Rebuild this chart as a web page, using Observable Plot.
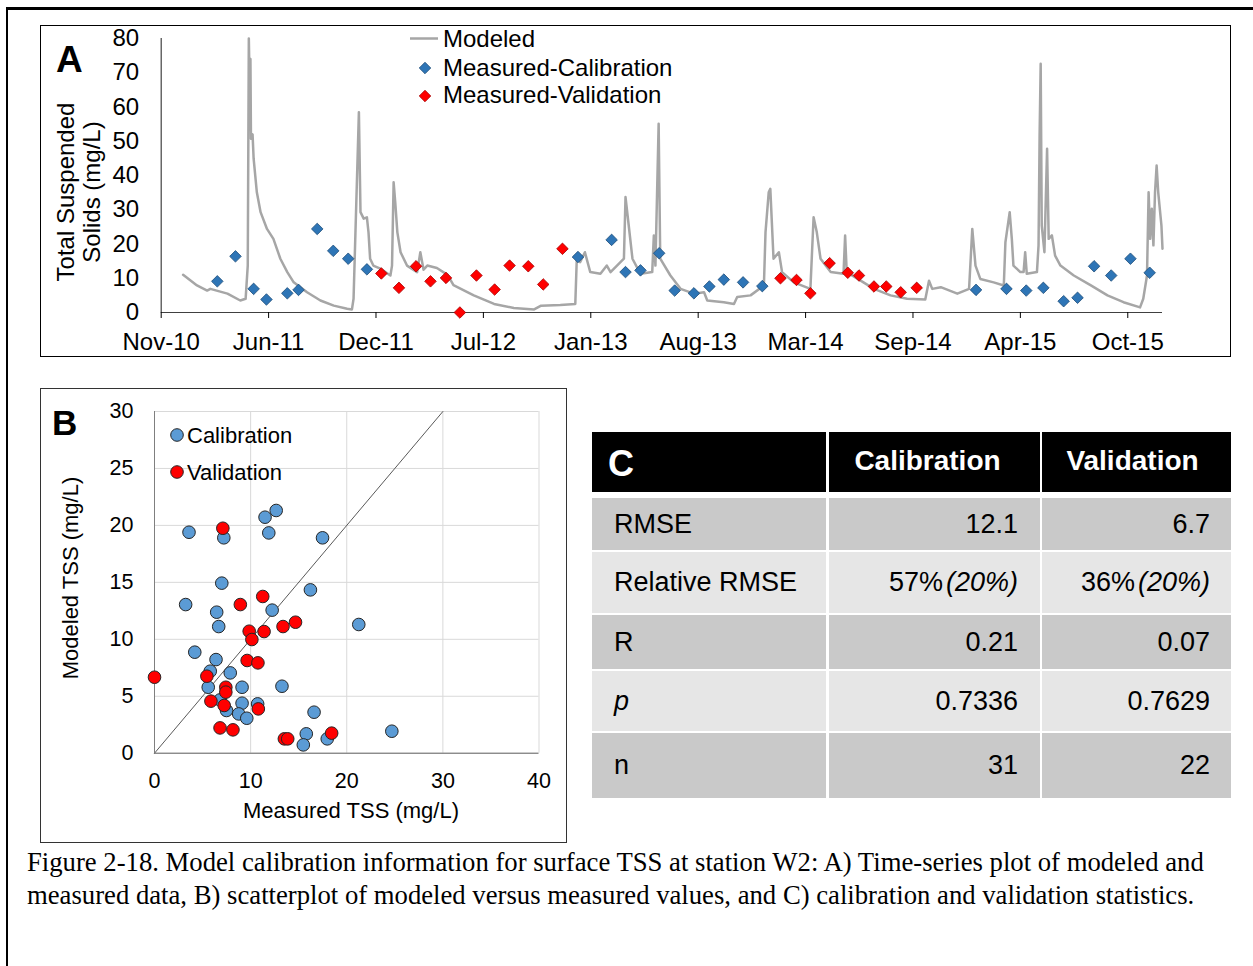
<!DOCTYPE html>
<html><head><meta charset="utf-8">
<script src="https://cdn.jsdelivr.net/npm/d3@7"></script>
<script src="https://cdn.jsdelivr.net/npm/@observablehq/plot@0.6"></script>
<style>
html,body{margin:0;padding:0;background:#fff;}
body{width:1253px;height:966px;position:relative;overflow:hidden;font-family:"Liberation Sans",Arial,sans-serif;}
.abs{position:absolute;box-sizing:border-box;}
.cell{position:absolute;box-sizing:border-box;display:flex;align-items:center;white-space:nowrap;}
</style></head><body>
<div class="abs" style="left:6px;top:7px;width:1300px;height:1000px;border-top:3px solid #000;border-left:2px solid #000;"></div>
<div class="abs" style="left:40px;top:25px;width:1191px;height:332px;border:1px solid #000;"></div>
<div class="abs" style="left:40px;top:388px;width:527px;height:455px;border:1px solid #333;"></div>
<div id="chartA" class="abs" style="left:40px;top:25px;"></div>
<div id="chartB" class="abs" style="left:40px;top:385px;"></div>
<div id="tableC"></div>
<div id="caption" class="abs" style="left:27px;top:846px;font-family:'Liberation Serif','Times New Roman',serif;font-size:26.7px;line-height:33px;white-space:nowrap;color:#000;"></div>
<script>
// ---------------- Panel A data ----------------
const xTickDates = ["2010-11-15","2011-06-04","2011-12-22","2012-07-10","2013-01-27","2013-08-16","2014-03-05","2014-09-22","2015-04-11","2015-10-29"];
const xTickLabels = ["Nov-10","Jun-11","Dec-11","Jul-12","Jan-13","Aug-13","Mar-14","Sep-14","Apr-15","Oct-15"];
const yTicksA = [0,10,20,30,40,50,60,70,80];
const xDomainA = ["2010-11-15","2016-01-02"];

const modeledDates = ["2010-12-26","2011-01-21","2011-02-09","2011-02-15","2011-03-19","2011-04-12","2011-04-22","2011-04-26","2011-04-28","2011-04-30","2011-05-01","2011-05-02","2011-05-05","2011-05-07","2011-05-13","2011-05-20","2011-06-01","2011-06-13","2011-06-26","2011-07-09","2011-07-21","2011-08-15","2011-09-09","2011-10-04","2011-10-29","2011-11-07","2011-11-10","2011-11-20","2011-11-23","2011-11-29","2011-12-05","2011-12-08","2011-12-11","2011-12-17","2011-12-30","2012-01-18","2012-01-21","2012-01-24","2012-01-27","2012-01-31","2012-02-06","2012-02-18","2012-03-08","2012-03-14","2012-03-20","2012-03-27","2012-04-14","2012-05-04","2012-05-15","2012-06-22","2012-07-30","2012-09-05","2012-10-13","2012-10-26","2012-12-01","2012-12-29","2013-01-01","2013-01-07","2013-01-16","2013-01-26","2013-02-14","2013-02-26","2013-03-05","2013-03-30","2013-04-02","2013-04-08","2013-04-15","2013-04-30","2013-05-22","2013-05-25","2013-05-28","2013-06-03","2013-06-06","2013-06-25","2013-07-14","2013-08-08","2013-08-27","2013-09-02","2013-10-03","2013-10-22","2013-10-28","2013-11-22","2013-12-17","2013-12-20","2013-12-26","2013-12-29","2014-01-04","2014-01-14","2014-01-20","2014-02-11","2014-03-14","2014-03-20","2014-03-26","2014-04-02","2014-04-21","2014-05-15","2014-05-18","2014-05-21","2014-06-16","2014-07-11","2014-08-11","2014-09-11","2014-10-15","2014-10-22","2014-10-28","2014-11-13","2014-12-14","2015-01-05","2015-01-11","2015-01-17","2015-01-26","2015-02-20","2015-03-11","2015-03-14","2015-03-22","2015-03-26","2015-03-29","2015-04-11","2015-04-17","2015-04-20","2015-04-23","2015-05-12","2015-05-15","2015-05-17","2015-05-19","2015-05-21","2015-05-26","2015-05-31","2015-06-03","2015-06-09","2015-06-15","2015-06-25","2015-07-20","2015-08-21","2015-09-21","2015-10-21","2015-11-21","2015-11-27","2015-12-04","2015-12-07","2015-12-10","2015-12-13","2015-12-16","2015-12-19","2015-12-22","2015-12-25","2015-12-31","2016-01-02"];
const modeledTSS = [11.0,7.9,6.4,6.9,5.5,3.5,4.0,13.7,80,62,74,50.7,52,44.9,35.1,29.3,24.4,21.5,15.7,11.8,8.8,5.9,3.5,2.0,1.1,0.9,4.0,58.5,29.3,27.4,27.8,23.4,15.7,13.7,12.8,10.8,13.7,38,32.2,23.4,17.6,13.7,11.8,17.6,12.5,13.7,13.0,11.0,8.0,5.0,2.5,1.3,0.9,2.0,2.2,2.5,16.6,14.7,17.6,11.8,11.3,13.7,11.8,15.7,33.7,25.4,15.7,11.3,11.8,22.5,13.7,55.1,15.7,10.8,6.9,5.5,5.9,3.5,3.0,2.5,4.5,5.0,7.9,23.4,35.1,36.1,15.7,17.6,11.8,8.8,6.9,27.8,23.4,15.7,11.8,11.3,22.5,11.8,9.3,6.9,5.0,4.0,3.8,9.3,6.9,7.4,5.5,6.9,24.4,13.7,9.8,8.8,7.9,20.5,29.3,21.5,13.7,11.8,11.8,17.6,11.3,11.8,19.6,51.7,72.6,25.4,17.6,47.8,21.5,22.5,16.6,13.7,10.8,7.9,5.0,3.0,1.5,4.0,10.8,35.1,21.5,30.3,19.6,35.1,42.9,35.1,25.4,18.6];

const calibDates = ["2011-02-28","2011-04-03","2011-05-07","2011-05-31","2011-07-09","2011-07-30","2011-09-03","2011-10-03","2011-10-31","2011-12-05","2013-01-03","2013-03-07","2013-04-02","2013-04-30","2013-06-04","2013-07-03","2013-08-08","2013-09-06","2013-10-03","2013-11-08","2013-12-14","2015-01-18","2015-03-16","2015-04-22","2015-05-24","2015-07-01","2015-07-27","2015-08-27","2015-09-28","2015-11-03","2015-12-09"];
const calibTSS = [9.1,16.4,6.9,3.8,5.6,6.6,24.4,18.0,15.7,12.6,16.2,21.2,11.8,12.3,17.3,6.4,5.6,7.6,9.6,8.8,7.7,6.6,6.9,6.4,7.2,3.3,4.3,13.5,10.8,15.7,11.6];

const validDates = ["2012-01-01","2012-02-03","2012-03-06","2012-04-02","2012-05-01","2012-05-27","2012-06-27","2012-07-31","2012-08-28","2012-10-02","2012-10-30","2012-12-05","2014-01-17","2014-02-16","2014-03-14","2014-04-19","2014-05-23","2014-06-13","2014-07-11","2014-08-03","2014-08-30","2014-09-29"];
const validTSS = [11.4,7.2,13.5,9.1,10.1,0,10.8,6.7,13.7,13.5,8.2,18.6,10.0,9.5,5.6,14.4,11.6,10.8,7.6,7.6,5.9,7.2];

// ---------------- Panel B data ----------------
const xTicksB = [0,10,20,30,40];
const yTicksB = [0,5,10,15,20,25,30];
const oneToOne = [0,30];
const scatCalibMeasured = [3.59,7.21,11.50,12.66,11.89,17.48,7.00,16.22,3.24,6.47,12.24,6.68,21.25,4.19,6.40,5.80,7.88,5.59,9.11,13.26,9.11,10.73,6.82,7.49,8.76,9.60,16.60,15.79,17.97,15.48,24.69];
const scatCalibModeled  = [19.40,18.91,20.72,21.31,19.34,18.91,14.93,14.34,13.05,12.38,12.56,11.12,11.30,8.87,8.22,7.20,7.05,5.79,5.79,5.88,4.39,4.33,4.68,3.75,3.45,3.07,3.60,1.70,1.26,0.73,1.93];
const scatValidMeasured = [7.11,8.93,11.26,9.85,10.13,11.40,13.37,14.67,9.64,10.76,0.0,5.45,7.42,7.42,5.87,7.25,10.80,6.82,8.16,13.51,13.86,18.43];
const scatValidModeled  = [19.75,13.05,13.76,10.71,9.98,10.68,11.12,11.50,8.14,7.93,6.67,6.76,5.79,5.36,4.57,4.19,3.89,2.22,2.05,1.26,1.26,1.76];

// ---------------- Panel C data ----------------
const statHeaders = ["C","Calibration","Validation"];
const statNames = ["RMSE","Relative RMSE","R","p","n"];
const calibStats = ["12.1","57%","0.21","0.7336","31"];
const validStats = ["6.7","36%","0.07","0.7629","22"];
const relTarget = "(20%)";

const captionLines = [
  "Figure 2-18. Model calibration information for surface TSS at station W2: A) Time-series plot of modeled and",
  "measured data, B) scatterplot of modeled versus measured values, and C) calibration and validation statistics."
];

// ---------------- build tables ----------------
const modeled = modeledDates.map((d,i)=>({date:new Date(d), tss:modeledTSS[i]}));
const calib = calibDates.map((d,i)=>({date:new Date(d), tss:calibTSS[i]}));
const valid = validDates.map((d,i)=>({date:new Date(d), tss:validTSS[i]}));
const tickDatesA = xTickDates.map(d=>new Date(d));
const labelMap = new Map(tickDatesA.map((d,i)=>[+d, xTickLabels[i]]));
const scatCalib = scatCalibMeasured.map((m,i)=>({measured:m, modeled:scatCalibModeled[i]}));
const scatValid = scatValidMeasured.map((m,i)=>({measured:m, modeled:scatValidModeled[i]}));

const FONT = '"Liberation Sans", Arial, sans-serif';
const blueA = "#2e75b6", blueAStroke = "#1f4e79", redA = "#ff0000", redAStroke = "#a50000";

// ---------------- Panel A ----------------
const chartA = Plot.plot({
  width: 1190, height: 331,
  marginLeft: 120.7, marginRight: 68, marginTop: 13, marginBottom: 44,
  style: {fontFamily: FONT, fontSize: "24px", color: "#000", background: "transparent", overflow: "visible"},
  x: {type: "utc", domain: xDomainA.map(d=>new Date(d))},
  y: {domain: [0, 80]},
  marks: [
    Plot.ruleY([0], {stroke: "#404040", strokeWidth: 1.2}),
    Plot.ruleX([tickDatesA[0]], {stroke: "#404040", strokeWidth: 1.2}),
    Plot.line(modeled, {x: "date", y: "tss", stroke: "#a6a6a6", strokeWidth: 2.5}),
    Plot.dot(calib, {x: "date", y: "tss", symbol: "diamond2", r: 5.2, fill: blueA, stroke: blueAStroke, strokeWidth: 0.8}),
    Plot.dot(valid, {x: "date", y: "tss", symbol: "diamond2", r: 5.2, fill: redA, stroke: redAStroke, strokeWidth: 0.8}),
    Plot.axisX(tickDatesA, {tickSize: 6, tickPadding: 14.5, tickFormat: d => labelMap.get(+d), label: null, fontSize: 24}),
    Plot.axisY(yTicksA, {tickSize: 0, tickPadding: 22, label: null, fontSize: 24})
  ]
});
document.getElementById("chartA").appendChild(chartA);
{
  const svg = d3.select(chartA);
  const ox = 40, oy = 25; // page offset of svg
  svg.append("text").attr("x", 56 - ox).attr("y", 72 - oy).attr("text-anchor", "start")
    .attr("font-size", 37).attr("font-weight", "bold").attr("font-family", FONT).attr("fill", "#000").text("A");
  const yt = svg.append("g").attr("font-size", 24).attr("font-family", FONT).attr("fill", "#000").attr("text-anchor", "middle");
  yt.append("text").attr("transform", `translate(${74 - ox},${192 - oy}) rotate(-90)`).text("Total Suspended");
  yt.append("text").attr("transform", `translate(${100 - ox},${192 - oy}) rotate(-90)`).text("Solids (mg/L)");
  // legend
  const lg = svg.append("g").attr("font-size", 24).attr("font-family", FONT).attr("fill", "#000").attr("text-anchor", "start");
  lg.append("line").attr("x1", 410 - ox).attr("x2", 438 - ox).attr("y1", 38.5 - oy).attr("y2", 38.5 - oy)
    .attr("stroke", "#a6a6a6").attr("stroke-width", 2.5);
  lg.append("text").attr("x", 443 - ox).attr("y", 47 - oy).text("Modeled");
  const dsym = d3.symbol(d3.symbolDiamond2, Math.PI * 5.2 * 5.2);
  lg.append("path").attr("d", dsym()).attr("transform", `translate(${425 - ox},${68 - oy})`)
    .attr("fill", blueA).attr("stroke", blueAStroke).attr("stroke-width", 0.8);
  lg.append("text").attr("x", 443 - ox).attr("y", 75.5 - oy).text("Measured-Calibration");
  lg.append("path").attr("d", dsym()).attr("transform", `translate(${425 - ox},${96 - oy})`)
    .attr("fill", redA).attr("stroke", redAStroke).attr("stroke-width", 0.8);
  lg.append("text").attr("x", 443 - ox).attr("y", 103 - oy).text("Measured-Validation");
}

// ---------------- Panel B ----------------
const blueB = "#5b9bd5", redB = "#ff0000", ptStroke = "#262626";
const chartB = Plot.plot({
  width: 527, height: 460,
  marginLeft: 114, marginRight: 28.5, marginTop: 26, marginBottom: 92.3,
  style: {fontFamily: FONT, fontSize: "21.5px", color: "#000", background: "transparent", overflow: "visible"},
  x: {domain: [0, 40]},
  y: {domain: [0, 30]},
  marks: [
    Plot.gridX(xTicksB.slice(1), {stroke: "#d9d9d9", strokeOpacity: 1, strokeWidth: 1}),
    Plot.gridY(yTicksB.slice(1), {stroke: "#d9d9d9", strokeOpacity: 1, strokeWidth: 1}),
    Plot.ruleY([0], {stroke: "#595959", strokeWidth: 1}),
    Plot.ruleX([0], {stroke: "#7f7f7f", strokeWidth: 1}),
    Plot.line(oneToOne, {x: d => d, y: d => d, stroke: "#595959", strokeWidth: 1}),
    Plot.dot(scatCalib, {x: "measured", y: "modeled", r: 6.3, fill: blueB, stroke: ptStroke, strokeWidth: 1}),
    Plot.dot(scatValid, {x: "measured", y: "modeled", r: 6.3, fill: redB, stroke: ptStroke, strokeWidth: 1}),
    Plot.axisX(xTicksB, {tickSize: 0, tickPadding: 20, label: null, fontSize: 21.5}),
    Plot.axisY(yTicksB, {tickSize: 0, tickPadding: 21, label: null, fontSize: 21.5})
  ]
});
document.getElementById("chartB").appendChild(chartB);
{
  const svg = d3.select(chartB);
  const ox = 40, oy = 385;
  svg.append("text").attr("x", 52 - ox).attr("y", 435 - oy).attr("text-anchor", "start")
    .attr("font-size", 35).attr("font-weight", "bold").attr("font-family", FONT).attr("fill", "#000").text("B");
  const g = svg.append("g").attr("font-size", 22).attr("font-family", FONT).attr("fill", "#000").attr("text-anchor", "start");
  g.append("text").attr("x", 351 - ox).attr("y", 818 - oy).attr("text-anchor", "middle").text("Measured TSS (mg/L)");
  g.append("text").attr("transform", `translate(${78 - ox},${578 - oy}) rotate(-90)`).attr("text-anchor", "middle").text("Modeled TSS (mg/L)");
  g.append("circle").attr("cx", 177 - ox).attr("cy", 435 - oy).attr("r", 6.3).attr("fill", blueB).attr("stroke", ptStroke);
  g.append("text").attr("x", 187 - ox).attr("y", 443 - oy).text("Calibration");
  g.append("circle").attr("cx", 177 - ox).attr("cy", 472 - oy).attr("r", 6.3).attr("fill", redB).attr("stroke", ptStroke);
  g.append("text").attr("x", 187 - ox).attr("y", 480 - oy).text("Validation");
}

// ---------------- Panel C (table) ----------------
{
  const host = document.getElementById("tableC");
  const cols = [[592, 826], [829, 1040], [1042, 1231]];
  const header = [432, 492];
  const rows = [[498, 550], [552, 613], [615, 669], [671, 731], [733, 798]];
  const rowBg = ["#c9c9c9", "#e6e6e6", "#c9c9c9", "#e6e6e6", "#c9c9c9"];
  function cell(x0, x1, y0, y1, bg, html, opts) {
    const d = document.createElement("div");
    d.className = "cell";
    Object.assign(d.style, {left: x0 + "px", top: y0 + "px", width: (x1 - x0) + "px", height: (y1 - y0) + "px", background: bg}, opts || {});
    d.innerHTML = html;
    host.appendChild(d);
  }
  cell(cols[0][0], cols[0][1], header[0], header[1], "#000", statHeaders[0],
    {color: "#fff", fontWeight: "bold", fontSize: "36px", paddingLeft: "16px", paddingTop: "4px"});
  cell(cols[1][0], cols[1][1], header[0], header[1], "#000", statHeaders[1],
    {color: "#fff", fontWeight: "bold", fontSize: "28px", justifyContent: "center", paddingRight: "14px", paddingBottom: "2px"});
  cell(cols[2][0], cols[2][1], header[0], header[1], "#000", statHeaders[2],
    {color: "#fff", fontWeight: "bold", fontSize: "28px", justifyContent: "center", paddingRight: "8px", paddingBottom: "2px"});
  statNames.forEach((name, i) => {
    const [y0, y1] = rows[i];
    const lab = name === "p" ? "<i>p</i>" : name;
    cell(cols[0][0], cols[0][1], y0, y1, rowBg[i], lab, {fontSize: "27px", paddingLeft: "22px", color: "#000"});
    const cv = name === "Relative RMSE" ? `${calibStats[i]}<span style="margin-left:3px;font-style:italic">${relTarget}</span>` : calibStats[i];
    const vv = name === "Relative RMSE" ? `${validStats[i]}<span style="margin-left:3px;font-style:italic">${relTarget}</span>` : validStats[i];
    cell(cols[1][0], cols[1][1], y0, y1, rowBg[i], cv, {fontSize: "27px", justifyContent: "flex-end", paddingRight: "22px", color: "#000"});
    cell(cols[2][0], cols[2][1], y0, y1, rowBg[i], vv, {fontSize: "27px", justifyContent: "flex-end", paddingRight: "21px", color: "#000"});
  });
}

// ---------------- caption ----------------
document.getElementById("caption").innerHTML = captionLines.join("<br>");
</script>
</body></html>
